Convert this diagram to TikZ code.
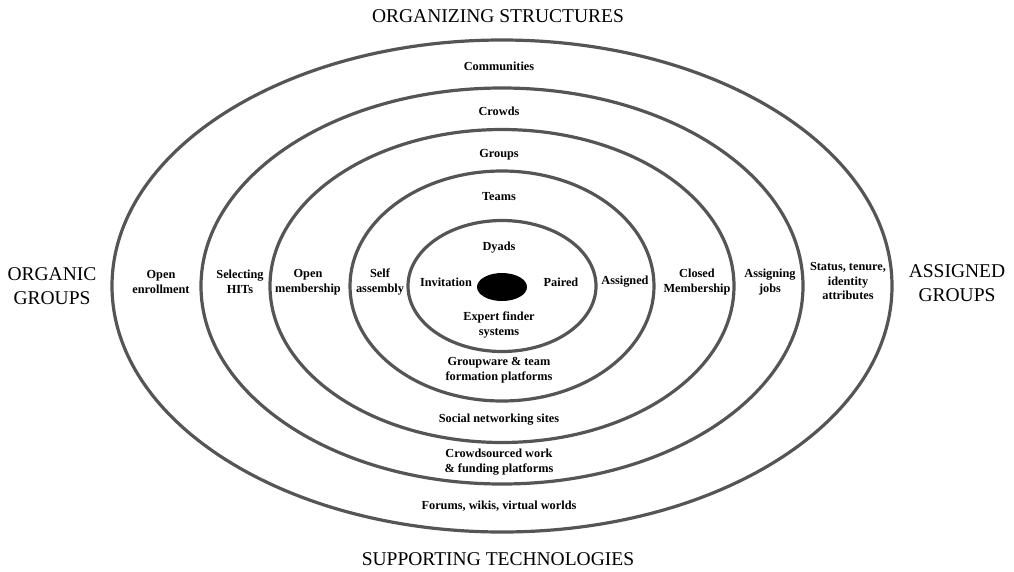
\documentclass[tikz,border=0pt]{standalone}
\usepackage{fontspec}
\setmainfont{Liberation Serif}
\usetikzlibrary{shapes.geometric}
\definecolor{ringgray}{HTML}{555555}

\begin{document}
\begin{tikzpicture}[x=1pt,y=-1pt,
    ring/.style={ellipse,draw=ringgray,line width=3.2pt,inner sep=0pt},
    lbl/.style={font=\fontsize{12.3}{14.5}\selectfont\bfseries,align=center},
    head/.style={font=\fontsize{19.5}{24}\selectfont,align=center}]

  \useasboundingbox (0,0) rectangle (1014,571);

  % nested rings
  \node[ring,minimum width=780pt,minimum height=492pt] (communities) at (502,286) {};
  \node[ring,minimum width=602pt,minimum height=396pt] (crowds) at (502,286) {};
  \node[ring,minimum width=464pt,minimum height=313pt] (groups) at (502,286) {};
  \node[ring,minimum width=304pt,minimum height=230pt] (teams) at (502,286) {};
  \node[ring,minimum width=188pt,minimum height=131pt] (dyads) at (502,286) {};
  \node[ellipse,fill=black,inner sep=0pt,minimum width=50pt,minimum height=28pt] (core) at (502,287) {};

  % axis headings
  \node[head] (orgstruct) at (498,16) {ORGANIZING STRUCTURES};
  \node[head] (suptech)   at (498,559) {SUPPORTING TECHNOLOGIES};
  \node[head] (organic)   at (52,286) {ORGANIC\\GROUPS};
  \node[head] (assigned)  at (957,283) {ASSIGNED\\GROUPS};

  % ring names
  \node[lbl] (lcommunities) at (499,66)  {Communities};
  \node[lbl] (lcrowds)      at (499,111) {Crowds};
  \node[lbl] (lgroups)      at (499,155) {Groups};
  \node[lbl] (lteams)       at (499,197) {Teams};
  \node[lbl] (ldyads)       at (499,248) {Dyads};

  % left side
  \node[lbl] (openenroll) at (161,282) {Open\\enrollment};
  \node[lbl] (selhits)    at (240,282) {Selecting\\HITs};
  \node[lbl] (openmember) at (308,282) {Open\\membership};
  \node[lbl] (selfassem)  at (380,282) {Self\\assembly};
  \node[lbl] (invite)     at (446,282) {Invitation};

  % right side
  \node[lbl] (paired)     at (561,282) {Paired};
  \node[lbl] (assign)     at (625,282) {Assigned};
  \node[lbl] (closed)     at (697,282) {Closed\\Membership};
  \node[lbl] (assignjobs) at (770,282) {Assigning\\jobs};
  \node[lbl] (status)     at (848,281) {Status, tenure,\\identity\\attributes};

  % technologies
  \node[lbl] (expert)    at (499,325) {Expert finder\\systems};
  \node[lbl] (groupware) at (499,370) {Groupware \& team\\formation platforms};
  \node[lbl] (social)    at (499,420) {Social networking sites};
  \node[lbl] (crowdsrc)  at (499,462) {Crowdsourced work\\\& funding platforms};
  \node[lbl] (forums)    at (499,506) {Forums, wikis, virtual worlds};
\end{tikzpicture}
\end{document}
